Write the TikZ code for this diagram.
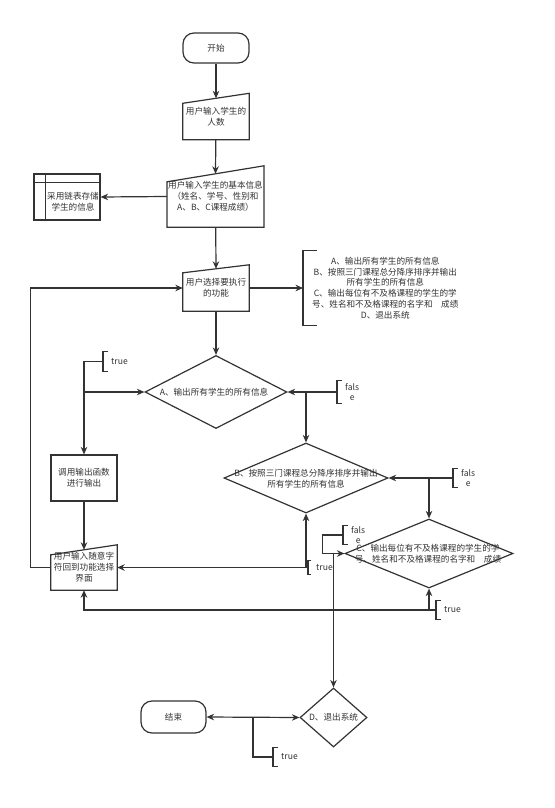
\documentclass[tikz,border=0pt]{standalone}
\usepackage{fontspec}
\setmainfont{Noto Sans CJK SC}
\usetikzlibrary{arrows.meta,shapes.geometric}
\definecolor{flowline}{RGB}{51,51,51}
\definecolor{flowtext}{RGB}{51,51,51}
\newcommand{\flowfont}{\fontsize{8.6pt}{10.8pt}\selectfont}
% slanted top edge of a manual input node
\newcommand{\slantbox}[2]{\draw[flow] (#1.south west) -- ([yshift=-#2]#1.north west) -- (#1.north east) -- (#1.south east) -- cycle;}
% bracket on the left of an annotation node
\newcommand{\notemark}[2]{\draw[flow] ([xshift=#2]#1.north west) -- (#1.north west) -- (#1.south west) -- ([xshift=#2]#1.south west);}

\begin{document}
\begin{tikzpicture}[
    x=1pt,y=-1pt,
    font=\flowfont,text=flowtext,
    >={Stealth[length=7.5pt,width=6.5pt]},
    flow/.style={draw=flowline,line width=1.2pt},
    terminal/.style={rectangle,flow,rounded corners=11pt,minimum width=66pt,minimum height=30pt},
    manual/.style={rectangle,inner sep=1pt,align=center,minimum width=66pt,minimum height=46pt},
    process/.style={rectangle,flow,inner sep=1pt,align=center,minimum width=66pt,minimum height=46pt},
    decision/.style={diamond,flow,inner sep=0pt},
    label/.style={inner sep=0pt,align=center},
    note/.style={anchor=west,inner xsep=8pt,inner ysep=0pt,align=center,minimum height=19pt}
]
    \fill[white] (0,0) rectangle (554,808);
    \useasboundingbox (0,0) rectangle (554,808);

    % main column
    \node[terminal] (start) at (216,48) {开始};
    \node[manual] (count) at (216,116.5) {用户输入学生的\\人数};
    \slantbox{count}{10pt}
    \node[manual,minimum width=95pt,minimum height=61pt] (info) at (215.5,196.5) {用户输入学生的基本信息\\（姓名、学号、性别和\\A、B、C课程成绩）};
    \slantbox{info}{16pt}
    \node[process] (store) at (67,197) {};
    \draw[flow] ([xshift=12pt]store.north west) -- ([xshift=12pt]store.south west);
    \draw[flow] ([yshift=-9pt]store.north west) -- ([yshift=-9pt]store.north east);
    \node[label] (store-t) at (73,202) {采用链表存储\\学生的信息};
    \node[manual] (menu) at (216,288) {用户选择要执行\\的功能};
    \slantbox{menu}{8pt}
    \node[note,minimum height=74pt,inner xsep=9pt] (menu-note) at (303,288) {A、输出所有学生的所有信息\\B、按照三门课程总分降序排序并输出\\所有学生的所有信息\\C、输出每位有不及格课程的学生的学\\号、姓名和不及格课程的名字和\quad 成绩\\D、退出系统};
    \notemark{menu-note}{14pt}

    % decisions
    \node[decision,minimum width=142pt,minimum height=73pt] (optA) at (216,392) {};
    \node[label] (optA-t) at (214,392) {A、输出所有学生的所有信息};
    \node[decision,minimum width=164pt,minimum height=70pt] (optB) at (306,478) {};
    \node[label] (optB-t) at (306,478.5) {B、按照三门课程总分降序排序并输出\\所有学生的所有信息};
    \node[decision,minimum width=168pt,minimum height=69pt] (optC) at (429,553.5) {};
    \node[label] (optC-t) at (428,554) {C、输出每位有不及格课程的学生的学\\号、姓名和不及格课程的名字和\quad 成绩};
    \node[decision,minimum width=67pt,minimum height=59pt] (optD) at (333.5,717.5) {};
    \node[label] (optD-t) at (333.5,717.5) {D、退出系统};

    % output and return
    \node[process] (print) at (84,478) {调用输出函数\\进行输出};
    \node[manual,minimum height=45pt] (back) at (84,567.5) {用户输入随意字\\符回到功能选择\\界面};
    \slantbox{back}{10pt}
    \node[terminal,minimum width=65pt,minimum height=32pt] (stop) at (173.5,717) {结束};

    % branch notes
    \node[note] (trueA) at (103,361.5) {true};
    \notemark{trueA}{5pt}
    \node[note,minimum height=22pt] (falseA) at (337,392) {fals\\e};
    \notemark{falseA}{5pt}
    \node[note] (falseB) at (453,478) {fals\\e};
    \notemark{falseB}{5pt}
    \node[note,minimum height=13pt] (trueB) at (308,567.5) {true};
    \notemark{trueB}{3pt}
    \node[note] (falseC) at (343,535) {fals\\e};
    \notemark{falseC}{5pt}
    \node[note,minimum height=18pt] (trueC) at (436,610) {true};
    \notemark{trueC}{5pt}
    \node[note,minimum height=18pt] (trueD) at (273,757) {true};
    \notemark{trueD}{5pt}

    % connectors
    \draw[flow,->] (start) -- ([yshift=-5pt]count.north);
    \draw[flow,->] (count) -- ([yshift=-8pt]info.north);
    \draw[flow,->] (info.west) -- (store.east);
    \draw[flow,->] (info) -- ([yshift=-4pt]menu.north);
    \draw[flow,->] (menu.east) -- (menu-note.west);
    \draw[flow,->] (menu) -- (optA);
    \draw[flow,<->] (optA.west) -| (print.north);
    \draw[flow] (print.north |- optA.west) |- (trueA.west);
    \draw[flow,<-] (optA.east) -- (falseA.west);
    \draw[flow,->] (optB.north |- optA.east) -- (optB.north);
    \draw[flow,<-] (optB.east) -- (falseB.west);
    \draw[flow,->] (optC.north |- optB.east) -- (optC.north);
    \draw[flow,<-] (optB.south) |- (trueB.west);
    \draw[flow,->] (optB.south |- back.east) -- (back.east);
    \draw[flow,<-] (optC.west) -- ++(-22,0) |- (falseC.west);
    \draw[flow,->] (optD.north |- optC.west) -- (optD.north);
    \draw[flow,<-] (optC.south) |- (trueC.west);
    \draw[flow,->] (optC.south |- trueC.west) -| (back.south);
    \draw[flow,->] (print) -- ([yshift=-5pt]back.north);
    \draw[flow,->] (back.west) -- ++(-20,0) |- (menu.west);
    \draw[flow,<->] (stop.east) -- (optD.west);
    \draw[flow] (253,717) |- (trueD.west);
\end{tikzpicture}
\end{document}
